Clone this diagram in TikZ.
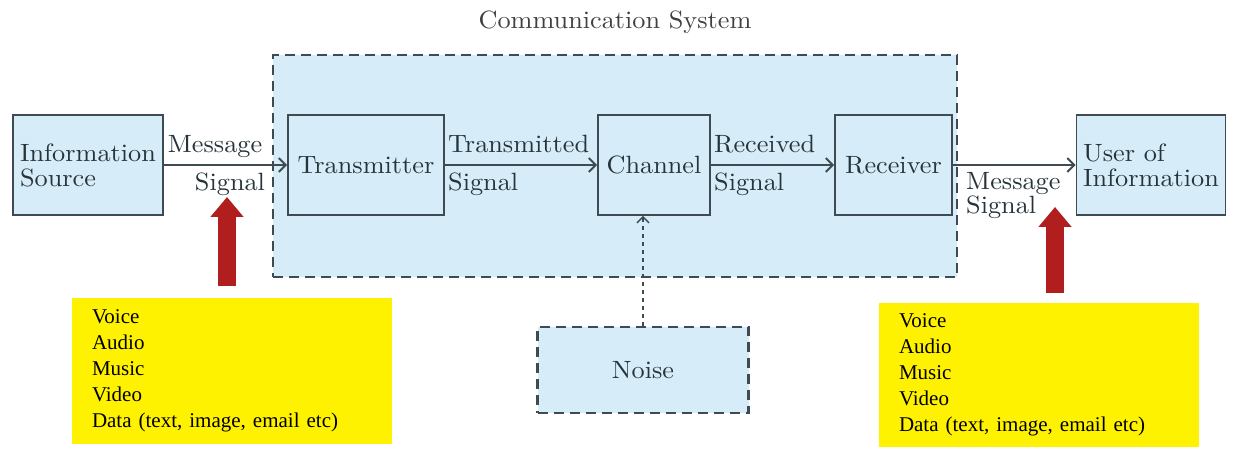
\documentclass[tikz,border=0pt]{standalone}
\usepackage{fontspec}
\newfontfamily\yfont{Liberation Serif}
\newfontfamily\boxfont{lmroman10-regular.otf}[FakeStretch=1.05]
\usetikzlibrary{arrows.meta}
\definecolor{boxfill}{HTML}{D6ECF8}
\definecolor{boxline}{HTML}{3E4B52}
\definecolor{inktext}{HTML}{26343A}
\definecolor{arrowred}{HTML}{B01E1E}
\tikzset{
  blk/.style={draw=boxline, fill=boxfill, line width=1.6pt, minimum width=#1, minimum height=100pt,
    inner sep=0pt, align=left, text=inktext, font=\boxfont\fontsize{25}{25}\selectfont},
  lbl/.style={inner sep=0pt, text=inktext, font=\boxfont\fontsize{25}{25}\selectfont},
  dashbox/.style={draw=boxline, fill=boxfill, line width=2.4pt, dash pattern=on 10pt off 6pt},
  flow/.style={draw=boxline, line width=2pt, -{Straight Barb[length=7pt,width=14pt]}},
  noiseflow/.style={draw=boxline, line width=1.5pt, dash pattern=on 4pt off 4pt, -{Straight Barb[length=6pt,width=12pt]}},
  yel/.style={fill=yellow, minimum width=320pt, text width=280pt, inner xsep=20pt, align=left,
    font=\yfont\fontsize{21}{26}\selectfont},
  redarr/.style={draw=arrowred, line width=18pt, -{Triangle[width=32pt,length=20pt]}}
}
\begin{document}
\begin{tikzpicture}[x=1pt,y=-1pt]
\useasboundingbox (0,0) rectangle (1235,449);
\node[lbl, text=black!75] (title) at (615,22) {Communication System};
\node[dashbox, minimum width=684pt, minimum height=222pt] (sys) at (615,166) {};
\node[blk=150pt] (src) at (88,165) {Information\\Source};
\node[blk=156pt] (tx) at (366,165) {Transmitter};
\node[blk=112pt] (ch) at (654,165) {Channel};
\node[blk=117pt] (rx) at (893.5,165) {Receiver};
\node[blk=149pt] (usr) at (1151,165) {User of\\Information};
\node[dashbox, minimum width=211pt, minimum height=86pt, text=inktext, font=\boxfont\fontsize{25}{25}\selectfont] (noise) at (643,370) {Noise};
\draw[flow] (src) -- (tx);
\draw[flow] (tx) -- (ch);
\draw[flow] (ch) -- (rx);
\draw[flow] (rx) -- (usr);
\draw[noiseflow] (noise.north) -- (noise.north |- ch.south);
\node[lbl, anchor=base] (msgA) at (215,153) {Message};
\node[lbl, anchor=base] (sigA) at (230,191) {Signal};
\node[lbl, anchor=base west] (txA) at (448,153) {Transmitted};
\node[lbl, anchor=base west] (txB) at (448,191) {Signal};
\node[lbl, anchor=base west] (rcA) at (714,153) {Received};
\node[lbl, anchor=base west] (rcB) at (714,191) {Signal};
\node[lbl, anchor=base west] (msgB) at (966,190) {Message};
\node[lbl, anchor=base west] (sigB) at (966,214) {Signal};
\node[yel, minimum height=146pt] (lsrc) at (232,371) {Voice\\Audio\\Music\\Video\\Data (text, image, email etc)};
\node[yel, minimum height=143pt] (rsrc) at (1039,375) {Voice\\Audio\\Music\\Video\\Data (text, image, email etc)};
\coordinate (ltip) at (227,197);
\coordinate (rtip) at (1055,207);
\draw[redarr] (lsrc.north -| ltip) ++(0,-12) -- (ltip);
\draw[redarr] (rsrc.north -| rtip) ++(0,-10) -- (rtip);
\end{tikzpicture}
\end{document}
